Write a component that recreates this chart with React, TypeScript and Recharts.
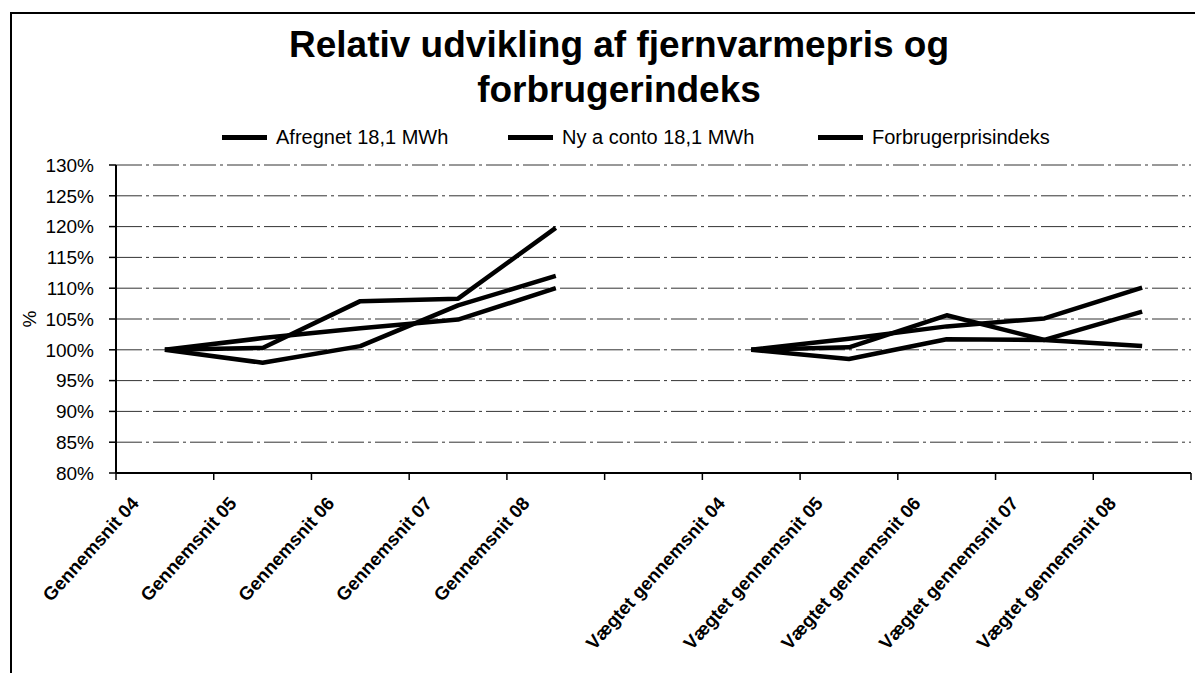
import React from "react";
import {
  LineChart,
  Line,
  XAxis,
  YAxis,
  CartesianGrid,
  Legend,
  ReferenceLine,
} from "recharts";

const categories = [
  "Gennemsnit 04",
  "Gennemsnit 05",
  "Gennemsnit 06",
  "Gennemsnit 07",
  "Gennemsnit 08",
  "",
  "Vægtet gennemsnit 04",
  "Vægtet gennemsnit 05",
  "Vægtet gennemsnit 06",
  "Vægtet gennemsnit 07",
  "Vægtet gennemsnit 08",
];

const afregnet = [100, 100.3, 107.9, 108.3, 119.8, null, 100, 100.4, 105.6, 101.6, 100.6];
const nyAconto = [100, 97.9, 100.6, 107.2, 112, null, 100, 98.5, 101.7, 101.6, 106.2];
const forbrugerpris = [100, 101.9, 103.5, 104.9, 110, null, 100, 101.8, 103.8, 105.1, 110.1];

const yTicks = [80, 85, 90, 95, 100, 105, 110, 115, 120, 125, 130];

const seriesNames = ["Afregnet 18,1 MWh", "Ny a conto 18,1 MWh", "Forbrugerprisindeks"];
const titleLines = ["Relativ udvikling af fjernvarmepris og", "forbrugerindeks"];

const data = categories.map((c, i) => ({
  cat: c,
  afregnet: afregnet[i],
  nyAconto: nyAconto[i],
  forbrugerpris: forbrugerpris[i],
}));

const FONT = "'Liberation Sans', Arial, sans-serif";

const CatTick = (props: any) => {
  const { x, y, payload, index, width } = props;
  const half =
    payload && typeof payload.offset === "number" && payload.offset > 0
      ? payload.offset
      : width / categories.length / 2;
  const ax = x - 25;
  const ay = y + 31;
  const isLast = index === categories.length - 1;
  return (
    <g>
      <line x1={x - half} y1={y} x2={x - half} y2={y + 7} stroke="#000" strokeWidth={1.5} />
      {isLast && (
        <line x1={x + half} y1={y} x2={x + half} y2={y + 7} stroke="#000" strokeWidth={1.5} />
      )}
      <text
        x={ax}
        y={ay}
        transform={`rotate(-48 ${ax} ${ay})`}
        textAnchor="end"
        fontFamily={FONT}
        fontWeight="bold"
        fontSize={18.5}
        fill="#000"
      >
        {payload.value}
      </text>
    </g>
  );
};

const itemWidths = [286, 310, 300];

const LegendContent = (props: any) => {
  const payload = [...(props.payload || [])].sort(
    (a: any, b: any) => seriesNames.indexOf(a.value) - seriesNames.indexOf(b.value)
  );
  return (
    <div
      style={{
        display: "flex",
        paddingLeft: 214,
        height: 26,
        alignItems: "center",
        fontFamily: FONT,
        fontSize: 20,
        color: "#000",
      }}
    >
      {payload.map((p: any, i: number) => (
        <div
          key={i}
          style={{ display: "flex", alignItems: "center", width: itemWidths[i] }}
        >
          <div style={{ width: 45, height: 5, background: "#000", marginRight: 9 }} />
          <span style={{ whiteSpace: "nowrap", lineHeight: "26px" }}>{p.value}</span>
        </div>
      ))}
    </div>
  );
};

const YLabel = (props: any) => {
  const vb = props.viewBox || {};
  const x = vb.x + 21;
  const y = vb.y + vb.height / 2;
  return (
    <text
      x={x}
      y={y}
      transform={`rotate(-90 ${x} ${y})`}
      textAnchor="middle"
      dominantBaseline="central"
      fontFamily={FONT}
      fontSize={19}
      fill="#000"
    >
      %
    </text>
  );
};

export default function App() {
  return (
    <div style={{ position: "relative", width: 1187, height: 665, overflow: "hidden" }}>
      <div
        style={{
          position: "absolute",
          left: 2,
          top: 4,
          width: 1190,
          height: 700,
          borderLeft: "2px solid #000",
          borderTop: "2px solid #000",
        }}
      />
      <div
        style={{
          position: "absolute",
          left: 40,
          top: 14,
          width: 1142,
          textAlign: "center",
          fontFamily: FONT,
          fontWeight: "bold",
          fontSize: 37,
          lineHeight: "45px",
          color: "#000",
        }}
      >
        {titleLines.map((t, i) => (
          <div key={i}>{t}</div>
        ))}
      </div>
      <div style={{ position: "absolute", left: 0, top: 0 }}>
        <LineChart
          width={1187}
          height={665}
          data={data}
          margin={{ top: 131, right: 4, bottom: 0, left: 0 }}
        >
          <CartesianGrid
            xAxisId="cat"
            vertical={false}
            stroke="#333"
            strokeWidth={1}
            strokeDasharray="26 4 3 4"
          />
          <XAxis
            xAxisId="cat"
            dataKey="cat"
            type="category"
            scale="band"
            interval={0}
            axisLine={{ stroke: "#000", strokeWidth: 2 }}
            tickLine={false}
            tickSize={0}
            tickMargin={0}
            height={200}
            tick={<CatTick />}
          />
          <YAxis
            width={108}
            domain={[80, 130]}
            ticks={yTicks}
            interval={0}
            tickFormatter={(v: number) => `${v}%`}
            tickSize={7}
            tickMargin={15}
            axisLine={{ stroke: "#000", strokeWidth: 2 }}
            tickLine={{ stroke: "#000", strokeWidth: 1.5 }}
            tick={{ fontFamily: FONT, fontSize: 19, fill: "#000" }}
            label={<YLabel />}
          />
          <ReferenceLine
            xAxisId="cat"
            x={categories[categories.length - 1]}
            position="end"
            stroke="#333"
            strokeDasharray="3 3"
          />
          <Legend
            verticalAlign="top"
            align="left"
            wrapperStyle={{ top: 116, left: 0, width: 1187, height: 26 }}
            content={<LegendContent />}
          />
          <Line
            xAxisId="cat"
            dataKey="afregnet"
            name={seriesNames[0]}
            stroke="#000"
            strokeWidth={4.5}
            dot={false}
            strokeLinejoin="round"
            isAnimationActive={false}
          />
          <Line
            xAxisId="cat"
            dataKey="nyAconto"
            name={seriesNames[1]}
            stroke="#000"
            strokeWidth={4.5}
            dot={false}
            strokeLinejoin="round"
            isAnimationActive={false}
          />
          <Line
            xAxisId="cat"
            dataKey="forbrugerpris"
            name={seriesNames[2]}
            stroke="#000"
            strokeWidth={4.5}
            dot={false}
            strokeLinejoin="round"
            isAnimationActive={false}
          />
        </LineChart>
      </div>
    </div>
  );
}
